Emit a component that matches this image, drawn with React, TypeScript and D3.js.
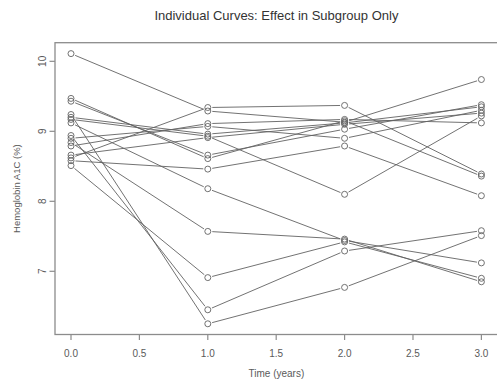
import React from "react";
import * as d3 from "d3";

const times = [0, 1, 2, 3];
const hba1cYear0 = [10.11, 8.62, 8.58, 9.47, 9.43, 9.2, 9.17, 8.9, 8.79, 8.66, 9.24, 8.94, 8.51, 8.84, 9.12];
const hba1cYear1 = [9.29, 9.34, 8.46, 8.61, 8.66, 8.96, 8.93, 9.07, 9.11, 8.91, 6.25, 6.45, 6.91, 7.57, 8.18];
const hba1cYear2 = [9.13, 9.37, 8.79, 9.15, 9.03, 9.12, 8.1, 8.9, 9.17, 9.1, 6.77, 7.29, 7.42, 7.46, 7.44];
const hba1cYear3 = [9.74, 8.39, 8.08, 8.36, 9.38, 9.35, 9.22, 9.3, 9.12, 9.26, 7.51, 7.58, 6.9, 6.85, 7.12];
const xTicks = [0, 0.5, 1, 1.5, 2, 2.5, 3];
const yTicks = [7, 8, 9, 10];

const W = 497;
const H = 381;
const left = 55;
const right = 497.8;
const top = 42.7;
const bottom = 334.5;

export default function App() {
  const x = d3.scaleLinear().domain([-0.117, 3.12]).range([left, right]);
  const y = d3.scaleLinear().domain([6.097, 10.266]).range([bottom, top]);
  const series = hba1cYear0.map((_, i) => [hba1cYear0[i], hba1cYear1[i], hba1cYear2[i], hba1cYear3[i]]);
  const gap = 4.5;
  const lineColor = "#626262";
  const axisColor = "#8c8c8c";
  const textColor = "#5a5a5a";

  const segs: { x1: number; y1: number; x2: number; y2: number; k: string }[] = [];
  series.forEach((vals, i) => {
    for (let j = 0; j < vals.length - 1; j++) {
      const ax = x(times[j]), ay = y(vals[j]);
      const bx = x(times[j + 1]), by = y(vals[j + 1]);
      const dx = bx - ax, dy = by - ay;
      const len = Math.sqrt(dx * dx + dy * dy);
      const ux = dx / len, uy = dy / len;
      segs.push({ x1: ax + ux * gap, y1: ay + uy * gap, x2: bx - ux * gap, y2: by - uy * gap, k: `${i}-${j}` });
    }
  });

  return (
    <svg width={W} height={H} style={{ position: "absolute", left: 0, top: 0 }} fontFamily="Liberation Sans, Arial, sans-serif">
      <rect x={0} y={0} width={W} height={H} fill="#fff" />
      <text x={(left + right) / 2} y={20} textAnchor="middle" fontSize={13} fill="#333">
        Individual Curves: Effect in Subgroup Only
      </text>
      {segs.map((s) => (
        <line key={s.k} x1={s.x1} y1={s.y1} x2={s.x2} y2={s.y2} stroke={lineColor} strokeWidth={0.9} />
      ))}
      {series.map((vals, i) =>
        vals.map((v, j) => (
          <circle key={`${i}-${j}`} cx={x(times[j])} cy={y(v)} r={3} fill="none" stroke={lineColor} strokeWidth={0.9} />
        ))
      )}
      <rect x={left} y={top} width={right - left} height={bottom - top} fill="none" stroke={axisColor} strokeWidth={1.3} />
      {xTicks.map((t) => (
        <g key={`xt${t}`}>
          <line x1={x(t)} x2={x(t)} y1={bottom} y2={bottom + 5.5} stroke={axisColor} strokeWidth={1.2} />
          <text x={x(t)} y={357} textAnchor="middle" fontSize={10} fill={textColor}>
            {t.toFixed(1)}
          </text>
        </g>
      ))}
      {yTicks.map((t) => (
        <g key={`yt${t}`}>
          <line x1={left - 5.5} x2={left} y1={y(t)} y2={y(t)} stroke={axisColor} strokeWidth={1.2} />
          <text x={46} y={y(t)} textAnchor="middle" fontSize={10} fill={textColor} transform={`rotate(-90, 46, ${y(t)})`}>
            {t}
          </text>
        </g>
      ))}
      <text x={(left + right) / 2} y={377} textAnchor="middle" fontSize={10} fill={textColor}>
        Time (years)
      </text>
      <text x={20} y={(top + bottom) / 2} textAnchor="middle" fontSize={9.5} fill={textColor} transform={`rotate(-90, 20, ${(top + bottom) / 2})`}>
        Hemoglobin A1C (%)
      </text>
    </svg>
  );
}
